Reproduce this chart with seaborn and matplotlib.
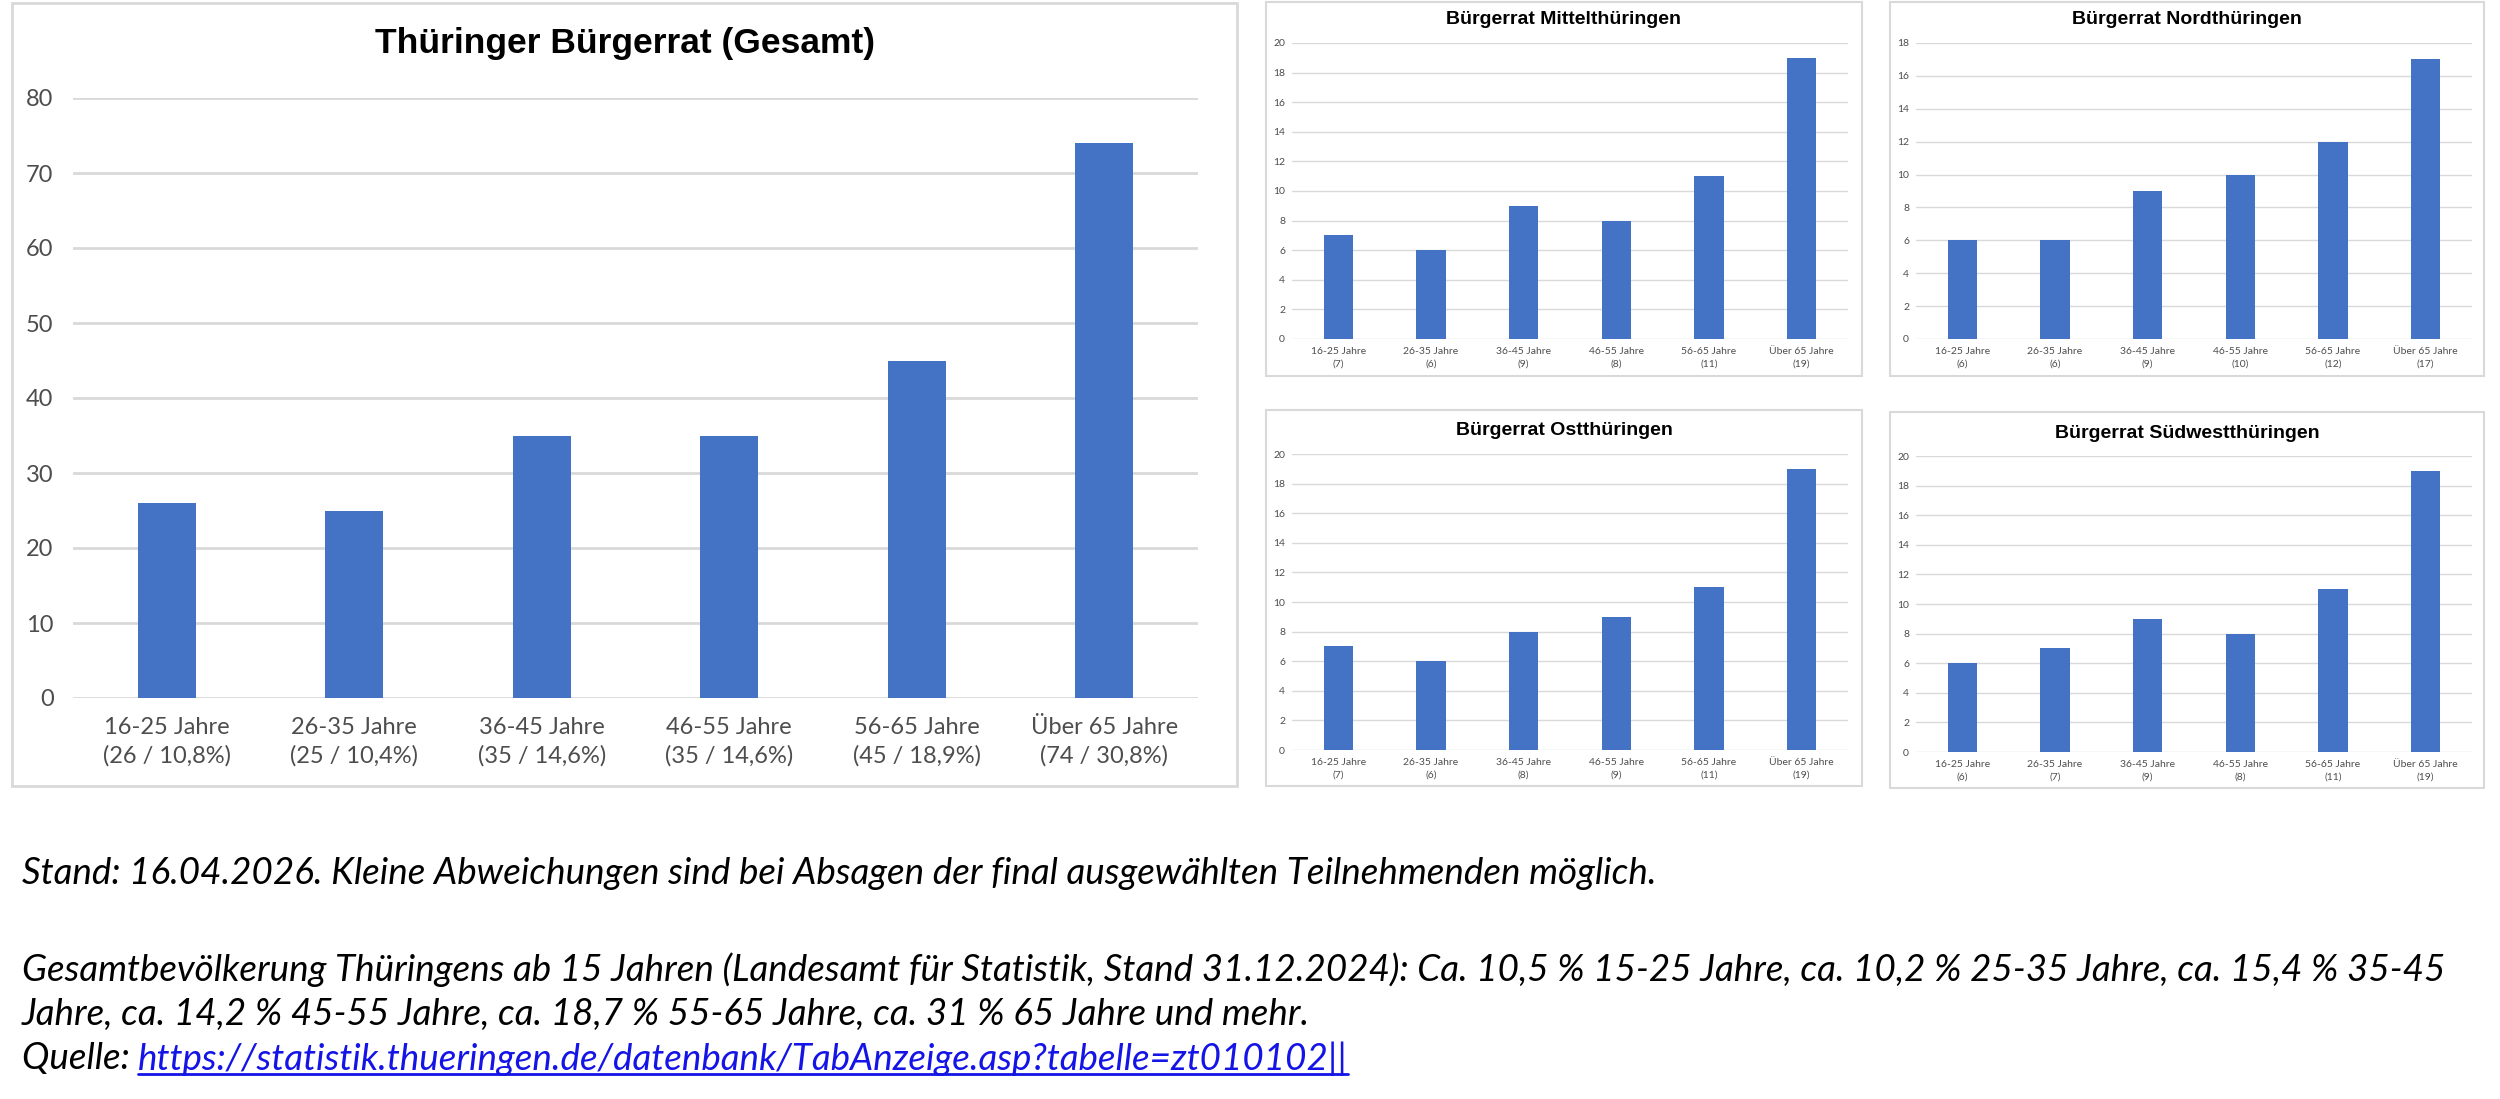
import matplotlib
matplotlib.use("Agg")
import matplotlib.pyplot as plt
from matplotlib.patches import Rectangle
from matplotlib.lines import Line2D
import seaborn as sns
import pandas as pd

# ---------------- data ----------------
categories = ["16-25 Jahre", "26-35 Jahre", "36-45 Jahre", "46-55 Jahre", "56-65 Jahre", "Über 65 Jahre"]
gesamt = [26, 25, 35, 35, 45, 74]
gesamt_pct = ["10,8%", "10,4%", "14,6%", "14,6%", "18,9%", "30,8%"]
mittel = [7, 6, 9, 8, 11, 19]
nord = [6, 6, 9, 10, 12, 17]
ost = [7, 6, 8, 9, 11, 19]
suedwest = [6, 7, 9, 8, 11, 19]

title_main = "Thüringer Bürgerrat (Gesamt)"
title_mittel = "Bürgerrat Mittelthüringen"
title_nord = "Bürgerrat Nordthüringen"
title_ost = "Bürgerrat Ostthüringen"
title_suedwest = "Bürgerrat Südwestthüringen"

note1 = "Stand: 16.04.2026. Kleine Abweichungen sind bei Absagen der final ausgewählten Teilnehmenden möglich."
note2 = ("Gesamtbevölkerung Thüringens ab 15 Jahren (Landesamt für Statistik, Stand 31.12.2024): "
         "Ca. 10,5 % 15-25 Jahre, ca. 10,2 % 25-35 Jahre, ca. 15,4 % 35-45")
note3 = "Jahre, ca. 14,2 % 45-55 Jahre, ca. 18,7 % 55-65 Jahre, ca. 31 % 65 Jahre und mehr."
note4_prefix = "Quelle: "
note4_link = "https://statistik.thueringen.de/datenbank/TabAnzeige.asp?tabelle=zt010102||"

# ---------------- style ----------------
sns.set_theme(style="white")
plt.rcParams["font.family"] = ["Lato", "DejaVu Sans"]

BAR = "#4472C4"
GRID = "#D9D9D9"
TICK = "#4D4D4D"
W, H = 2500, 1099

fig = plt.figure(figsize=(25, 10.99), dpi=100)
fig.patch.set_facecolor("white")


def fbox(x0, x1, y0, y1):
    """pixel box (top-left origin) -> figure fraction rect"""
    return [x0 / W, 1 - y1 / H, (x1 - x0) / W, (y1 - y0) / H]


def frame(x0, x1, y0, y1, lw):
    r = Rectangle((x0 / W, 1 - y1 / H), (x1 - x0) / W, (y1 - y0) / H,
                  transform=fig.transFigure, fill=False, edgecolor=GRID, lw=lw, zorder=0)
    fig.add_artist(r)


def draw_chart(rect, labels, values, ymax, ystep, tick_fs, grid_lw, ypad, xpad, bar_w, ls):
    ax = fig.add_axes(rect)
    df = pd.DataFrame({"label": labels, "value": values})
    sns.barplot(data=df, x="label", y="value", color=BAR, width=bar_w, ax=ax,
                saturation=1, edgecolor=BAR, linewidth=0)
    ax.set_xlim(-0.5, len(labels) - 0.5)
    ax.set_ylim(0, ymax)
    ax.set_yticks(range(0, ymax + 1, ystep))
    ax.yaxis.grid(True, color=GRID, lw=grid_lw)
    ax.set_axisbelow(True)
    for s in ax.spines.values():
        s.set_visible(False)
    ax.tick_params(axis="both", length=0, labelsize=tick_fs, colors=TICK)
    ax.tick_params(axis="y", pad=ypad)
    ax.tick_params(axis="x", pad=xpad)
    for t in ax.get_xticklabels():
        t.set_linespacing(ls)
    ax.set_xlabel("")
    ax.set_ylabel("")
    ax.set_facecolor("none")
    return ax


# ---------------- main chart ----------------
frame(12, 1237, 3, 786, 2.0)
main_labels = [f"{c}\n({v} / {p})" for c, v, p in zip(categories, gesamt, gesamt_pct)]
draw_chart(fbox(73, 1198, 98, 698), main_labels, gesamt, 80, 10, 17, 2.0, 14, 14, 0.31, 1.35)
fig.text(625 / W, 1 - 43 / H, title_main, ha="center", va="center",
         fontsize=25.5, fontweight="bold", family=["Liberation Sans", "DejaVu Sans"], color="black")

# ---------------- small charts ----------------
small = [
    (title_mittel, mittel, 20, (1266, 1862, 2, 376), (1292, 1848, 43, 339), 20),
    (title_nord, nord, 18, (1890, 2484, 2, 376), (1916, 2472, 43, 339), 20),
    (title_ost, ost, 20, (1266, 1862, 410, 786), (1292, 1848, 454, 750), 431),
    (title_suedwest, suedwest, 20, (1890, 2484, 412, 788), (1916, 2472, 456, 752), 433),
]
for title, vals, ymax, box, area, ty in small:
    frame(*box, 1.5)
    labels = [f"{c}\n({v})" for c, v in zip(categories, vals)]
    draw_chart(fbox(*area), labels, vals, ymax, 2, 7.5, 1.0, 5, 6, 0.32, 1.5)
    fig.text((box[0] + box[1]) / 2 / W, 1 - ty / H, title, ha="center", va="center",
             fontsize=14, fontweight="bold", family=["Liberation Sans", "DejaVu Sans"], color="black")

# ---------------- notes ----------------
NOTE_FS = 26.5
x0 = 22 / W
fig.text(x0, 1 - 873 / H, note1, ha="left", va="center", fontsize=NOTE_FS, style="italic", color="black")
fig.text(x0, 1 - 970 / H, note2, ha="left", va="center", fontsize=NOTE_FS, style="italic", color="black")
fig.text(x0, 1 - 1014 / H, note3, ha="left", va="center", fontsize=NOTE_FS, style="italic", color="black")
t_pre = fig.text(x0, 1 - 1059 / H, note4_prefix, ha="left", va="center", fontsize=NOTE_FS,
                 style="italic", color="black")
fig.canvas.draw()
renderer = fig.canvas.get_renderer()
bb = t_pre.get_window_extent(renderer)
lx = bb.x1 / W
t_link = fig.text(lx, 1 - 1059 / H, note4_link, ha="left", va="center", fontsize=NOTE_FS,
                  style="italic", color="#1414E6")
fig.canvas.draw()
lb = t_link.get_window_extent(renderer)
uy = (lb.y0 + 2) / H
fig.add_artist(Line2D([lb.x0 / W, lb.x1 / W], [uy, uy], transform=fig.transFigure,
                      color="#1414E6", lw=2))

fig.savefig("out.png", dpi=100, facecolor="white")
